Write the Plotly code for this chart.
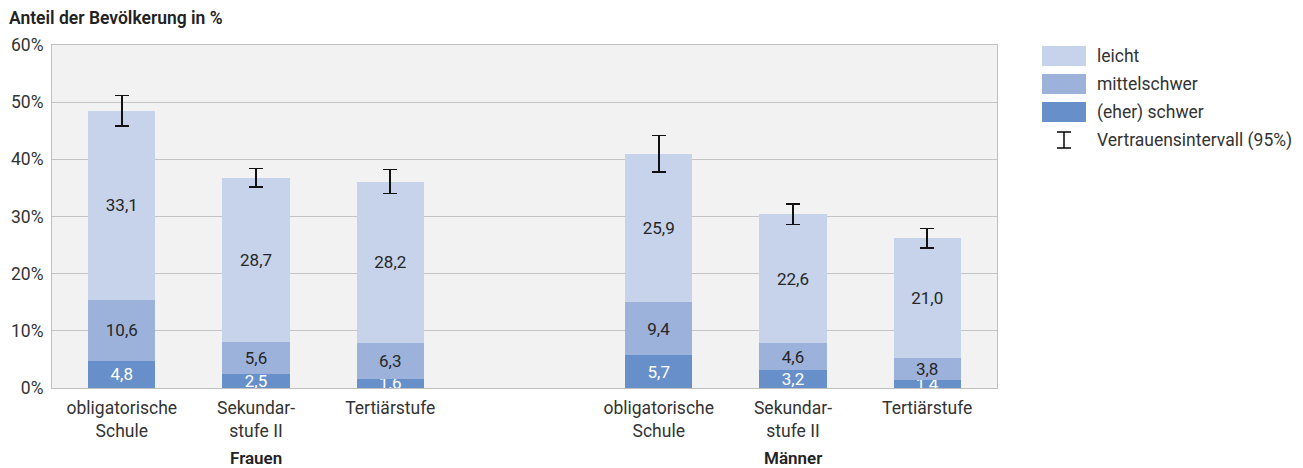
import plotly.graph_objects as go

categories = ["obligatorische<br>Schule", "Sekundar-<br>stufe II", "Tertiärstufe",
              "obligatorische<br>Schule", "Sekundar-<br>stufe II", "Tertiärstufe"]
x_pos = [0, 1, 2, 4, 5, 6]
groups = ["Frauen", "Männer"]
group_pos = [1, 5]

schwer = [4.8, 2.5, 1.6, 5.7, 3.2, 1.4]
mittelschwer = [10.6, 5.6, 6.3, 9.4, 4.6, 3.8]
leicht = [33.1, 28.7, 28.2, 25.9, 22.6, 21.0]
ci = [2.7, 1.6, 2.1, 3.2, 1.8, 1.7]

y_ticks = [0, 10, 20, 30, 40, 50, 60]
y_tick_labels = ["0%", "10%", "20%", "30%", "40%", "50%", "60%"]

series = [
    ("(eher) schwer", schwer, "#6790cb", "white"),
    ("mittelschwer", mittelschwer, "#9db2da", "#262626"),
    ("leicht", leicht, "#c7d3ea", "#262626"),
]

FONT = "Roboto"
FS = 17.5
TXT = "#333333"
fig = go.Figure()
for name, vals, color, tcolor in series:
    kw = {}
    if name == "leicht":
        kw["error_y"] = dict(type="data", array=ci, visible=True,
                             color="#111111", thickness=1.6, width=7)
    fig.add_trace(go.Bar(
        x=x_pos, y=vals, name=name, width=0.5,
        marker=dict(color=color, line=dict(width=0)),
        text=vals, texttemplate="%{y:.1f}", textposition="inside",
        insidetextanchor="middle", constraintext="none",
        textfont=dict(family=FONT, size=17, color=tcolor),
        showlegend=False, hoverinfo="skip", **kw))

fig.update_layout(
    barmode="stack", width=1303, height=468,
    margin=dict(l=52, r=306, t=45, b=80),
    paper_bgcolor="white", plot_bgcolor="#f2f2f2",
    separators=",.",
    font=dict(family=FONT, size=FS, color=TXT),
    showlegend=False,
)
fig.update_xaxes(range=[-0.52, 6.52], tickvals=x_pos, ticktext=categories,
                 showgrid=False, showline=True, linecolor="#bfbfbf", mirror=True,
                 ticks="", ticklabelstandoff=4,
                 tickfont=dict(family=FONT, size=FS, color=TXT))
fig.update_yaxes(range=[0, 60], tickvals=y_ticks, ticktext=y_tick_labels,
                 showgrid=True, gridcolor="#c4c4c4", gridwidth=1,
                 showline=True, linecolor="#bfbfbf", mirror=True,
                 zeroline=False, ticks="", ticklabelstandoff=4,
                 tickfont=dict(family=FONT, size=FS, color=TXT))

# title
fig.add_annotation(text="Anteil der Bevölkerung in %", xref="paper", yref="paper",
                   x=-45/945, y=(388-18)/343, xanchor="left", yanchor="middle",
                   showarrow=False, font=dict(family=FONT, size=17.5, color="#222222", weight=600))
# group labels
for g, gp in zip(groups, group_pos):
    fig.add_annotation(text=g, x=gp, xref="x", yref="paper",
                       y=(388-458)/343, xanchor="center", yanchor="middle",
                       showarrow=False, font=dict(family=FONT, size=17, color="#222222", weight=600))

# custom legend
def px(xp):
    return (xp - 52) / 945

def py(yp):
    return (388 - yp) / 343

legend_items = [("leicht", "#c7d3ea"), ("mittelschwer", "#9db2da"), ("(eher) schwer", "#6790cb")]
for i, (name, col) in enumerate(legend_items):
    cy = 56 + 28 * i
    fig.add_shape(type="rect", xref="paper", yref="paper",
                  x0=px(1042), x1=px(1086), y0=py(cy - 10), y1=py(cy + 10),
                  fillcolor=col, line=dict(width=0))
    fig.add_annotation(text=name, xref="paper", yref="paper", x=px(1095), y=py(cy),
                       xanchor="left", yanchor="middle", showarrow=False,
                       font=dict(family=FONT, size=FS, color=TXT))
cy = 140
for (x0, y0, x1, y1) in [(1064, cy - 8, 1064, cy + 8), (1057, cy - 8, 1071, cy - 8),
                         (1057, cy + 8, 1071, cy + 8)]:
    fig.add_shape(type="line", xref="paper", yref="paper",
                  x0=px(x0), x1=px(x1), y0=py(y0), y1=py(y1),
                  line=dict(color="#111111", width=1.6))
fig.add_annotation(text="Vertrauensintervall (95%)", xref="paper", yref="paper",
                   x=px(1095), y=py(cy), xanchor="left", yanchor="middle",
                   showarrow=False, font=dict(family=FONT, size=FS, color=TXT))

fig.write_html("out.html", config={"displayModeBar": False},
               post_script="document.body.style.margin='0';document.body.style.overflow='hidden';")
